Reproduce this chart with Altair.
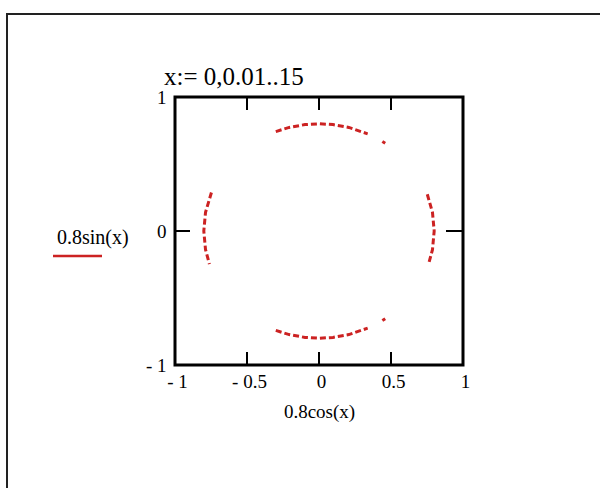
import altair as alt
import pandas as pd

# Visible pieces of the trace (0.8cos(x), 0.8sin(x)), one list pair per piece
top_x = [-0.300, -0.207, -0.097, 0.000, 0.097, 0.207, 0.338]
top_y = [0.742, 0.773, 0.794, 0.800, 0.794, 0.773, 0.725]
top_dot_x = [0.440, 0.460]
top_dot_y = [0.668, 0.655]
bottom_x = [-0.300, -0.207, -0.097, 0.000, 0.097, 0.207, 0.338]
bottom_y = [-0.742, -0.773, -0.794, -0.800, -0.794, -0.773, -0.725]
bottom_dot_x = [0.440, 0.460]
bottom_dot_y = [-0.668, -0.655]
left_x = [-0.747, -0.788, -0.800, -0.788, -0.761]
left_y = [0.287, 0.139, 0.000, -0.139, -0.247]
right_x = [0.752, 0.788, 0.800, 0.788, 0.761]
right_y = [0.274, 0.139, 0.000, -0.139, -0.247]

x_ticks = [-0.5, 0.0, 0.5]
x_labels = [-1, -0.5, 0, 0.5, 1]
y_labels = [-1, 0, 1]

pieces = {
    "top": (top_x, top_y),
    "top_dot": (top_dot_x, top_dot_y),
    "bottom": (bottom_x, bottom_y),
    "bottom_dot": (bottom_dot_x, bottom_dot_y),
    "left": (left_x, left_y),
    "right": (right_x, right_y),
}
rows = []
for name, (xs, ys) in pieces.items():
    for i, (a, b) in enumerate(zip(xs, ys)):
        rows.append({"piece": name, "i": i, "cx": a, "sy": b})
curve_df = pd.DataFrame(rows)

W, H = 288, 268
RED = "#cc2222"
SERIF = "Liberation Serif"

xscale = alt.Scale(domain=[-1, 1], nice=False, zero=False)
yscale = alt.Scale(domain=[-1, 1], nice=False, zero=False)

# plain numbers, with a spaced hyphen for negatives
LABEL = "(datum.value < 0 ? '- ' : '') + format(abs(datum.value), '~g')"

x_axis = alt.Axis(
    title="0.8cos(x)", values=x_labels, ticks=False, domain=False, grid=False,
    labelFont=SERIF, labelFontSize=19, labelColor="black", labelPadding=7,
    labelFlush=False, labelOverlap=False, labelExpr=LABEL, labelOffset=2,
    titleFont=SERIF, titleFontSize=19, titleFontWeight="normal", titleColor="black",
    titlePadding=11,
)
y_axis = alt.Axis(
    title=None, values=y_labels, ticks=False, domain=False, grid=False,
    labelFont=SERIF, labelFontSize=19, labelColor="black", labelPadding=9,
    labelFlush=False, labelOverlap=False, labelExpr=LABEL,
)

X = alt.X("cx:Q", scale=xscale, axis=x_axis)
Y = alt.Y("sy:Q", scale=yscale, axis=y_axis)

curve = alt.Chart(curve_df).mark_line(
    color=RED, strokeWidth=3, strokeDash=[6, 3]
).encode(x=X, y=Y, detail="piece:N", order="i:Q")

xt_df = pd.DataFrame({"cx": x_ticks})
top_ticks = alt.Chart(xt_df).mark_rule(color="black", strokeWidth=2).encode(
    x=X, y=alt.value(0), y2=alt.value(13))
bottom_ticks = alt.Chart(xt_df).mark_rule(color="black", strokeWidth=2).encode(
    x=X, y=alt.value(H), y2=alt.value(H - 13))

yt_df = pd.DataFrame({"sy": [0.0]})
left_tick = alt.Chart(yt_df).mark_rule(color="black", strokeWidth=2).encode(
    y=Y, x=alt.value(0), x2=alt.value(15))
right_tick = alt.Chart(yt_df).mark_rule(color="black", strokeWidth=2).encode(
    y=Y, x=alt.value(W), x2=alt.value(W - 17))

# outer worksheet frame
frame = alt.Chart(pd.DataFrame({"k": [0]})).mark_rect(
    fill=None, stroke="#222222", strokeWidth=2
).encode(x=alt.value(-168), x2=alt.value(700), y=alt.value(-83), y2=alt.value(600))

title = alt.Chart(pd.DataFrame({"t": ["x:= 0,0.01..15"]})).mark_text(
    font=SERIF, fontSize=25, align="left", baseline="alphabetic", color="black"
).encode(text="t:N", x=alt.value(-11), y=alt.value(-12))

legend_text = alt.Chart(pd.DataFrame({"t": ["0.8sin(x)"]})).mark_text(
    font=SERIF, fontSize=20, align="left", baseline="alphabetic", color="black"
).encode(text="t:N", x=alt.value(-118), y=alt.value(147))

legend_line = alt.Chart(pd.DataFrame({"k": [0]})).mark_rule(
    color=RED, strokeWidth=2.5
).encode(x=alt.value(-122), x2=alt.value(-73), y=alt.value(159))

chart = alt.layer(
    frame, curve, top_ticks, bottom_ticks, left_tick, right_tick,
    title, legend_text, legend_line,
).properties(
    width=W, height=H,
    autosize=alt.AutoSizeParams(type="none"),
    padding={"left": 175, "top": 97, "right": 137, "bottom": 123},
    background="white",
).configure_view(stroke="black", strokeWidth=3)

chart.save("out.html", embed_options={"renderer": "svg", "actions": False})
